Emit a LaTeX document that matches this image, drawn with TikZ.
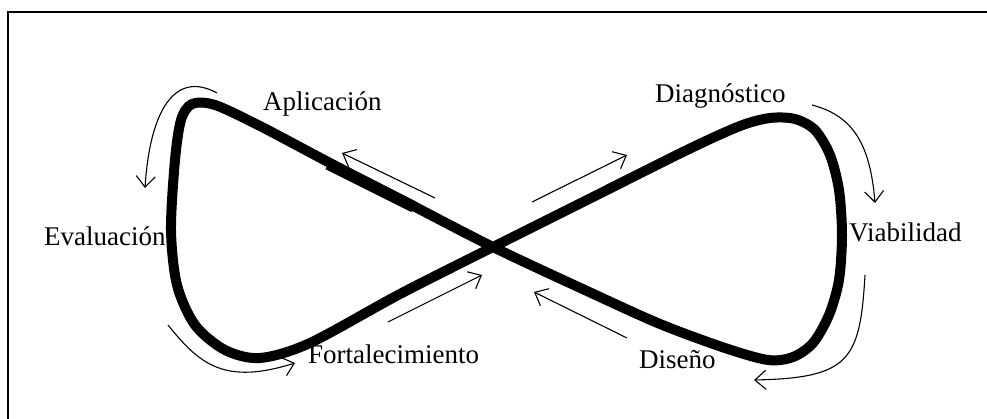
\documentclass[tikz,border=0pt]{standalone}
\usepackage{fontspec}
\setmainfont{Liberation Serif}
\usetikzlibrary{arrows.meta}

\begin{document}
\begin{tikzpicture}[x=1pt,y=-1pt]
    \tikzstyle{loop}=[line width=10pt,line join=round]
    \tikzstyle{flow}=[line width=1.1pt,-{Straight Barb[length=11pt,width=19pt]}]
    \tikzstyle{stage}=[inner sep=0pt,anchor=base west,font=\fontsize{27}{27}\selectfont]
    \useasboundingbox (0,0) rectangle (987,419);
    \draw[line width=2pt] (8,419) -- (8,12) -- (987,12);
    % the figure eight
    \draw[loop] plot[smooth cycle,tension=0.5] coordinates {
        (493,247) (400,199) (330,163) (260,126) (215,105) (192,104) (181,120)
        (175,160) (171,230) (177,285) (195,325) (225,350) (260,358) (310,343)
        (400,294)
        (493,247) (587,200) (687,150) (740,126) (770,118) (795,119) (815,130)
        (830,155) (839,190) (842,235) (839,280) (829,315) (813,343) (793,357)
        (768,360) (725,348) (660,324) (587,291)};
    \draw[line width=11.5pt] (328,164) -- (414,207);
    \node (apl)[stage] at (263,111) {Aplicación};
    \node (eva)[stage] at (44,246)  {Evaluación};
    \node (for)[stage] at (308,363) {Fortalecimiento};
    \node (dia)[stage] at (655,103) {Diagnóstico};
    \node (via)[stage] at (849,242) {Viabilidad};
    \node (dis)[stage] at (639,368) {Diseño};
    % arrows along the loop
    \draw[flow] (435,198) -- (342,153);
    \draw[flow] (388,322) -- (482,275);
    \draw[flow] (532,202) -- (627,155);
    \draw[flow] (627,338) -- (534,292);
    \draw[flow] (217,93) .. controls (175,70) and (150,110) .. (145,188);
    \draw[flow] (168,325) .. controls (200,365) and (225,385) .. (295,363);
    \draw[flow] (812,105) .. controls (850,115) and (870,140) .. (875,203);
    \draw[flow] (865,275) .. controls (860,360) and (850,378) .. (754,380);
\end{tikzpicture}
\end{document}
